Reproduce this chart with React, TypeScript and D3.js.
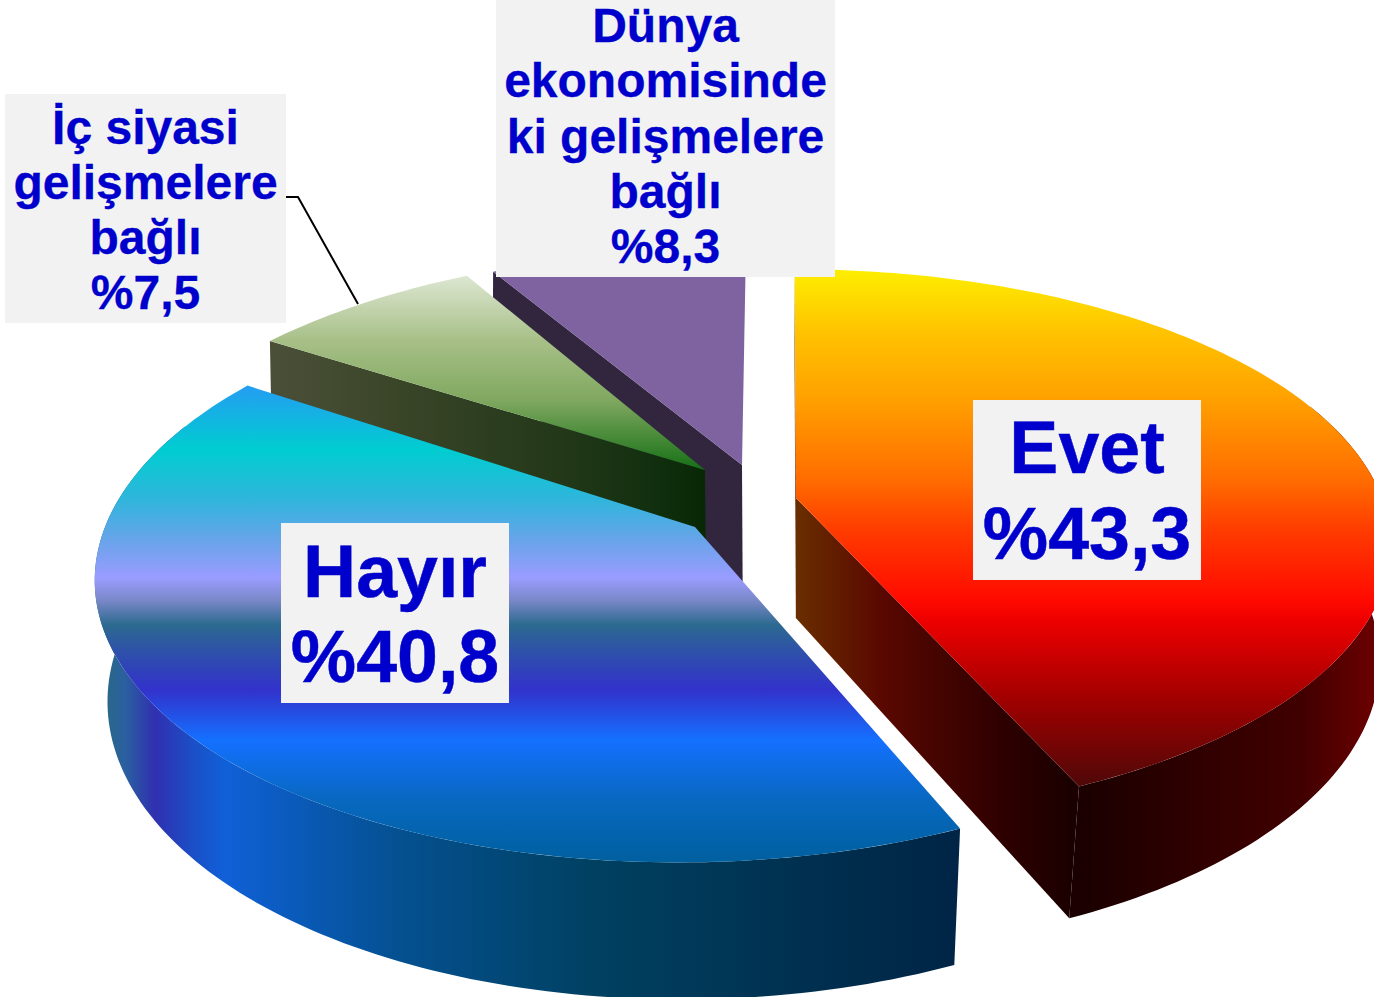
import * as d3 from 'd3';

const width = 1374;
const height = 997;

// slices, clockwise from 12 o'clock
const sliceNames = ['Evet', 'Hayır', 'İç siyasi gelişmelere bağlı', 'Dünya ekonomisindeki gelişmelere bağlı'];
const sliceValues = [43.3, 40.8, 7.5, 8.3];

// label lines and boxes
const labelLines = [['Evet', '%43,3'], ['Hayır', '%40,8'], ['İç siyasi', 'gelişmelere', 'bağlı', '%7,5'], ['Dünya', 'ekonomisinde', 'ki gelişmelere', 'bağlı', '%8,3']];
const labelBoxes = [
  { x: 973, y: 400, w: 228, h: 180, first: 473, step: 86, size: 73.5, bold: 0.5 },
  { x: 281, y: 523, w: 228, h: 180, first: 597, step: 85, size: 73.5, bold: 0.5 },
  { x: 5, y: 94, w: 281, h: 229, first: 144, step: 55, size: 48, bold: 0.3 },
  { x: 496, y: -10, w: 339, h: 287, first: 42, step: 55.3, size: 48, bold: 0.3 },
];
const leaderPoints: [number, number][] = [[286, 197], [298, 197], [358, 304]];

// each slice has its own explode offset and slightly different projection
const explode: [number, number][] = [[10, 7], [-91, 36], [-81, -21], [-44, -26]];
const radiusXs = [586, 590, 583, 550];
const radiusYs = [266, 276, 265, 245];
const persps = [0.168, 0.16, 0.19, 0.1];
const depths = [120, 126, 120, 120];
const paintOrder = [3, 2, 0, 1];

const centre = { x: 786, y: 491 };

type Stop = [number, string];
const topStops: Stop[][] = [
  [[270, '#fdee00'], [330, '#ffc400'], [400, '#ffa000'], [480, '#ff6c00'], [530, '#ff3c00'], [600, '#ff0a00'], [620, '#ee0000'], [700, '#a00000'], [785, '#500808']],
  [[390, '#22a0f0'], [450, '#00cdd0'], [500, '#30b5dc'], [540, '#68a4ea'], [578, '#9a9cff'], [600, '#7a88c8'], [625, '#2c6a90'], [650, '#2e52a8'], [690, '#3232cc'], [740, '#1470ff'], [800, '#0868c0'], [860, '#0060a0']],
  [[277, '#dce6d0'], [340, '#a8c088'], [400, '#80a860'], [470, '#157015']],
  [[250, '#7f62a0'], [470, '#7f62a0']],
];
const wallStops: Stop[][] = [
  [[792, '#6a3000'], [880, '#5a0800'], [1000, '#2f0000'], [1075, '#1a0000'], [1200, '#300000'], [1300, '#400000'], [1374, '#6a0000']],
  [[100, '#2a6a80'], [125, '#2a60a0'], [155, '#3030b0'], [195, '#1a50c8'], [225, '#1060d8'], [320, '#0858b0'], [400, '#045090'], [600, '#004060'], [800, '#003050'], [965, '#002445']],
  [[270, '#4a5038'], [400, '#3a4528'], [550, '#24391a'], [650, '#12300f'], [705, '#082805']],
  [[490, '#32263f'], [742, '#32263f']],
];

const pieArcs = d3.pie<number>().sort(null)(sliceValues);
const toPath = d3.line<[number, number]>();

// disc point (angle clockwise from top, r 0..1) -> screen, on top or bottom face
const project = (i: number, angle: number, r: number, bottom: boolean): [number, number] => {
  const u = Math.sin(angle) * r;
  const v = -Math.cos(angle) * r;
  const s = 1 / (1 - persps[i] * v);
  const f = bottom ? 0.985 - 0.02 * v : 1;
  return [
    centre.x + (explode[i][0] + radiusXs[i] * u) * s * f,
    centre.y + (explode[i][1] + radiusYs[i] * v) * s * f + (bottom ? depths[i] * s : 0),
  ];
};

const arcAngles = (a0: number, a1: number) => {
  const n = Math.max(2, Math.ceil((a1 - a0) / 0.02));
  return d3.range(n + 1).map(k => a0 + ((a1 - a0) * k) / n);
};

const topFace = (i: number) => {
  const { startAngle, endAngle } = pieArcs[i];
  const rim = arcAngles(startAngle, endAngle).map(a => project(i, a, 1, false));
  return toPath([project(i, 0, 0, false), ...rim]) + 'Z';
};

const radialWall = (i: number, angle: number) =>
  toPath([project(i, angle, 0, false), project(i, angle, 1, false), project(i, angle, 1, true), project(i, angle, 0, true)]) + 'Z';

const outerWall = (i: number) => {
  const a0 = Math.max(pieArcs[i].startAngle, 1.2);
  const a1 = Math.min(pieArcs[i].endAngle, 5.1);
  if (a1 <= a0) return null;
  const angles = arcAngles(a0, a1);
  return toPath([...angles.map(a => project(i, a, 1, false)), ...angles.slice().reverse().map(a => project(i, a, 1, true))]) + 'Z';
};

const Gradient = ({ id, stops, axis }: { id: string; stops: Stop[]; axis: 'x' | 'y' }) => {
  const lo = stops[0][0];
  const hi = stops[stops.length - 1][0];
  const offset = d3.scaleLinear().domain([lo, hi]).range([0, 1]);
  const ends = axis === 'x' ? { x1: lo, x2: hi, y1: 0, y2: 0 } : { x1: 0, x2: 0, y1: lo, y2: hi };
  return (
    <linearGradient id={id} gradientUnits="userSpaceOnUse" {...ends}>
      {stops.map(([p, c]) => <stop key={p} offset={offset(p)} stopColor={c} />)}
    </linearGradient>
  );
};

const Slice = ({ i }: { i: number }) => {
  const { startAngle, endAngle } = pieArcs[i];
  const wallFill = `url(#wall${i})`;
  const outer = outerWall(i);
  return (
    <g>
      {/* only walls turned toward the viewer */}
      {-Math.sin(startAngle) >= -1e-9 && <path d={radialWall(i, startAngle)} fill={wallFill} />}
      {Math.sin(endAngle) > 1e-9 && <path d={radialWall(i, endAngle)} fill={wallFill} />}
      {outer && <path d={outer} fill={wallFill} />}
      <path d={topFace(i)} fill={`url(#top${i})`} />
    </g>
  );
};

export default function App() {
  return (
    <svg width={width} height={height} viewBox={`0 0 ${width} ${height}`} style={{ position: 'fixed', left: 0, top: 0, background: '#fff' }}>
      <defs>
        {sliceNames.map((_, i) => <Gradient key={`t${i}`} id={`top${i}`} stops={topStops[i]} axis="y" />)}
        {sliceNames.map((_, i) => <Gradient key={`w${i}`} id={`wall${i}`} stops={wallStops[i]} axis="x" />)}
      </defs>
      <path d={toPath(leaderPoints) as string} fill="none" stroke="#000" strokeWidth={2} />
      {paintOrder.map(i => <Slice key={i} i={i} />)}
      {labelBoxes.map((b, i) => (
        <g key={i}>
          <rect x={b.x} y={b.y} width={b.w} height={b.h} fill="#f2f2f2" />
          {labelLines[i].map((line, k) => (
            <text key={k} x={b.x + b.w / 2} y={b.first + k * b.step} textAnchor="middle" fontFamily="'Liberation Sans', Arial, sans-serif" fontWeight="bold" fontSize={b.size} fill="#0000cc" stroke="#0000cc" strokeWidth={b.bold}>
              {line}
            </text>
          ))}
        </g>
      ))}
    </svg>
  );
}
